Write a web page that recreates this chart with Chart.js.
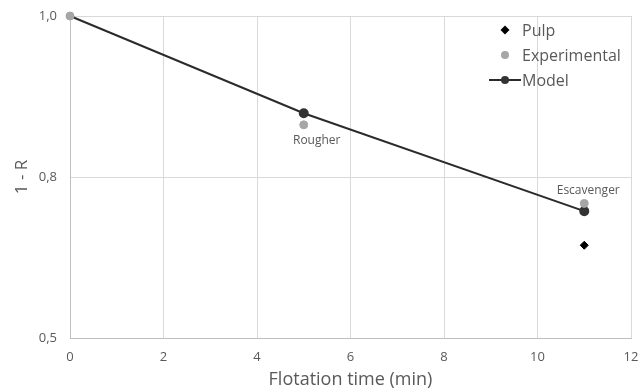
<!DOCTYPE html>
<html>
<head>
<meta charset="utf-8">
<script src="https://cdn.jsdelivr.net/npm/chart.js@4/dist/chart.umd.min.js"></script>
<style>
	html, body { margin: 0; padding: 0; background: #fff; }
	#wrap { width: 640px; height: 389px; }
</style>
</head>
<body>
<div id="wrap"><canvas id="myChart" width="640" height="389"></canvas></div>
<script>
// values
const modelX = [0, 5, 11];
const modelY = [1.0, 0.849, 0.697];
const expX = [0, 5, 11];
const expY = [1.0, 0.831, 0.709];
const pulpX = [11];
const pulpY = [0.644];
const xTicks = [0, 2, 4, 6, 8, 10, 12];
const yTicks = [0.5, 0.75, 1.0];
const yTickLabels = ["0,5", "0,8", "1,0"];
const stageNames = ["Rougher", "Escavenger"];
const stageX = [5, 11];
const stageY = [0.831, 0.709];

const grey = "#595959";
const font = "'Open Sans', 'Noto Sans', sans-serif";

function pts(xs, ys) {
	return xs.map((x, i) => ({x: x, y: ys[i]}));
}

// labels hanging past the plot must not push it around
function noPad(s) {
	s.paddingLeft = 0; s.paddingRight = 0; s.paddingTop = 0; s.paddingBottom = 0;
}

// legend + stage labels drawn on top of the plot
const extras = {
	id: "extras",
	afterDatasetsDraw(chart) {
		const c = chart.ctx;
		const xs = chart.scales.x, ys = chart.scales.y;
		c.save();
		c.fillStyle = grey;
		c.font = "12px " + font;
		c.textAlign = "center";
		c.textBaseline = "middle";
		// Rougher under its point, Escavenger above
		c.fillText(stageNames[0], xs.getPixelForValue(stageX[0]) + 13, ys.getPixelForValue(stageY[0]) + 16);
		c.fillText(stageNames[1], xs.getPixelForValue(stageX[1]) + 4, ys.getPixelForValue(stageY[1]) - 13);

		// legend
		const ds = chart.data.datasets;
		const order = [2, 0, 1];
		const lx = 505, tx = 522;
		let ly = 30;
		c.font = "16px " + font;
		c.textAlign = "left";
		for (const i of order) {
			const d = ds[i];
			if (d.showLine) {
				c.strokeStyle = d.borderColor;
				c.lineWidth = 2;
				c.beginPath();
				c.moveTo(lx - 16, ly);
				c.lineTo(lx + 16, ly);
				c.stroke();
			}
			c.fillStyle = d.pointBackgroundColor;
			c.beginPath();
			if (d.pointStyle === "rectRot") {
				const r = 4.5;
				c.moveTo(lx, ly - r); c.lineTo(lx + r, ly); c.lineTo(lx, ly + r); c.lineTo(lx - r, ly);
				c.closePath();
			} else {
				c.arc(lx, ly, 4, 0, Math.PI * 2);
			}
			c.fill();
			c.fillStyle = grey;
			c.fillText(d.label, tx, ly + 1);
			ly += 25;
		}
		c.restore();
	}
};

const ctx = document.getElementById("myChart");
const myChart = new Chart(ctx, {
	type: "scatter",
	data: {
		datasets: [
			{
				label: "Experimental",
				data: pts(expX, expY),
				showLine: false,
				pointBackgroundColor: "#a6a6a6",
				pointBorderColor: "#a6a6a6",
				pointRadius: 4,
				clip: false,
				order: 1
			},
			{
				label: "Model",
				data: pts(modelX, modelY),
				showLine: true,
				borderColor: "#2b2b2b",
				borderWidth: 2,
				pointBackgroundColor: "#333333",
				pointBorderColor: "#333333",
				pointRadius: [0, 4, 4],
				clip: false,
				order: 2
			},
			{
				label: "Pulp",
				data: pts(pulpX, pulpY),
				showLine: false,
				pointStyle: "rectRot",
				pointBackgroundColor: "#000000",
				pointBorderColor: "#000000",
				pointRadius: 4,
				clip: false,
				order: 3
			}
		]
	},
	options: {
		responsive: false,
		animation: false,
		layout: { padding: { top: 16, right: 9, left: 0, bottom: 0 } },
		plugins: { legend: { display: false }, tooltip: { enabled: false } },
		scales: {
			x: {
				type: "linear",
				min: 0, max: 12,
				afterBuildTicks: (s) => { s.ticks = xTicks.map(v => ({value: v})); },
				afterFit: (s) => { s.height = 51; noPad(s); },
				grid: { color: "#d9d9d9", drawTicks: false },
				border: { color: "#bfbfbf" },
				ticks: { color: grey, font: { family: font, size: 13 }, padding: 11 },
				title: { display: true, text: "Flotation time (min)", color: grey, font: { family: font, size: 18 }, padding: { top: 0, bottom: -2 } }
			},
			y: {
				type: "linear",
				min: 0.5, max: 1.0,
				afterBuildTicks: (s) => { s.ticks = yTicks.map(v => ({value: v})); },
				afterFit: (s) => { s.width = 70; noPad(s); },
				grid: { color: "#d9d9d9", drawTicks: false },
				border: { color: "#bfbfbf" },
				ticks: {
					color: grey, font: { family: font, size: 13 }, padding: 13,
					callback: (v) => yTickLabels[yTicks.indexOf(v)]
				},
				title: { display: true, text: "1 - R", color: grey, font: { family: font, size: 17 }, padding: { top: 12, bottom: 4 } }
			}
		}
	},
	plugins: [extras]
});
</script>
</body>
</html>
